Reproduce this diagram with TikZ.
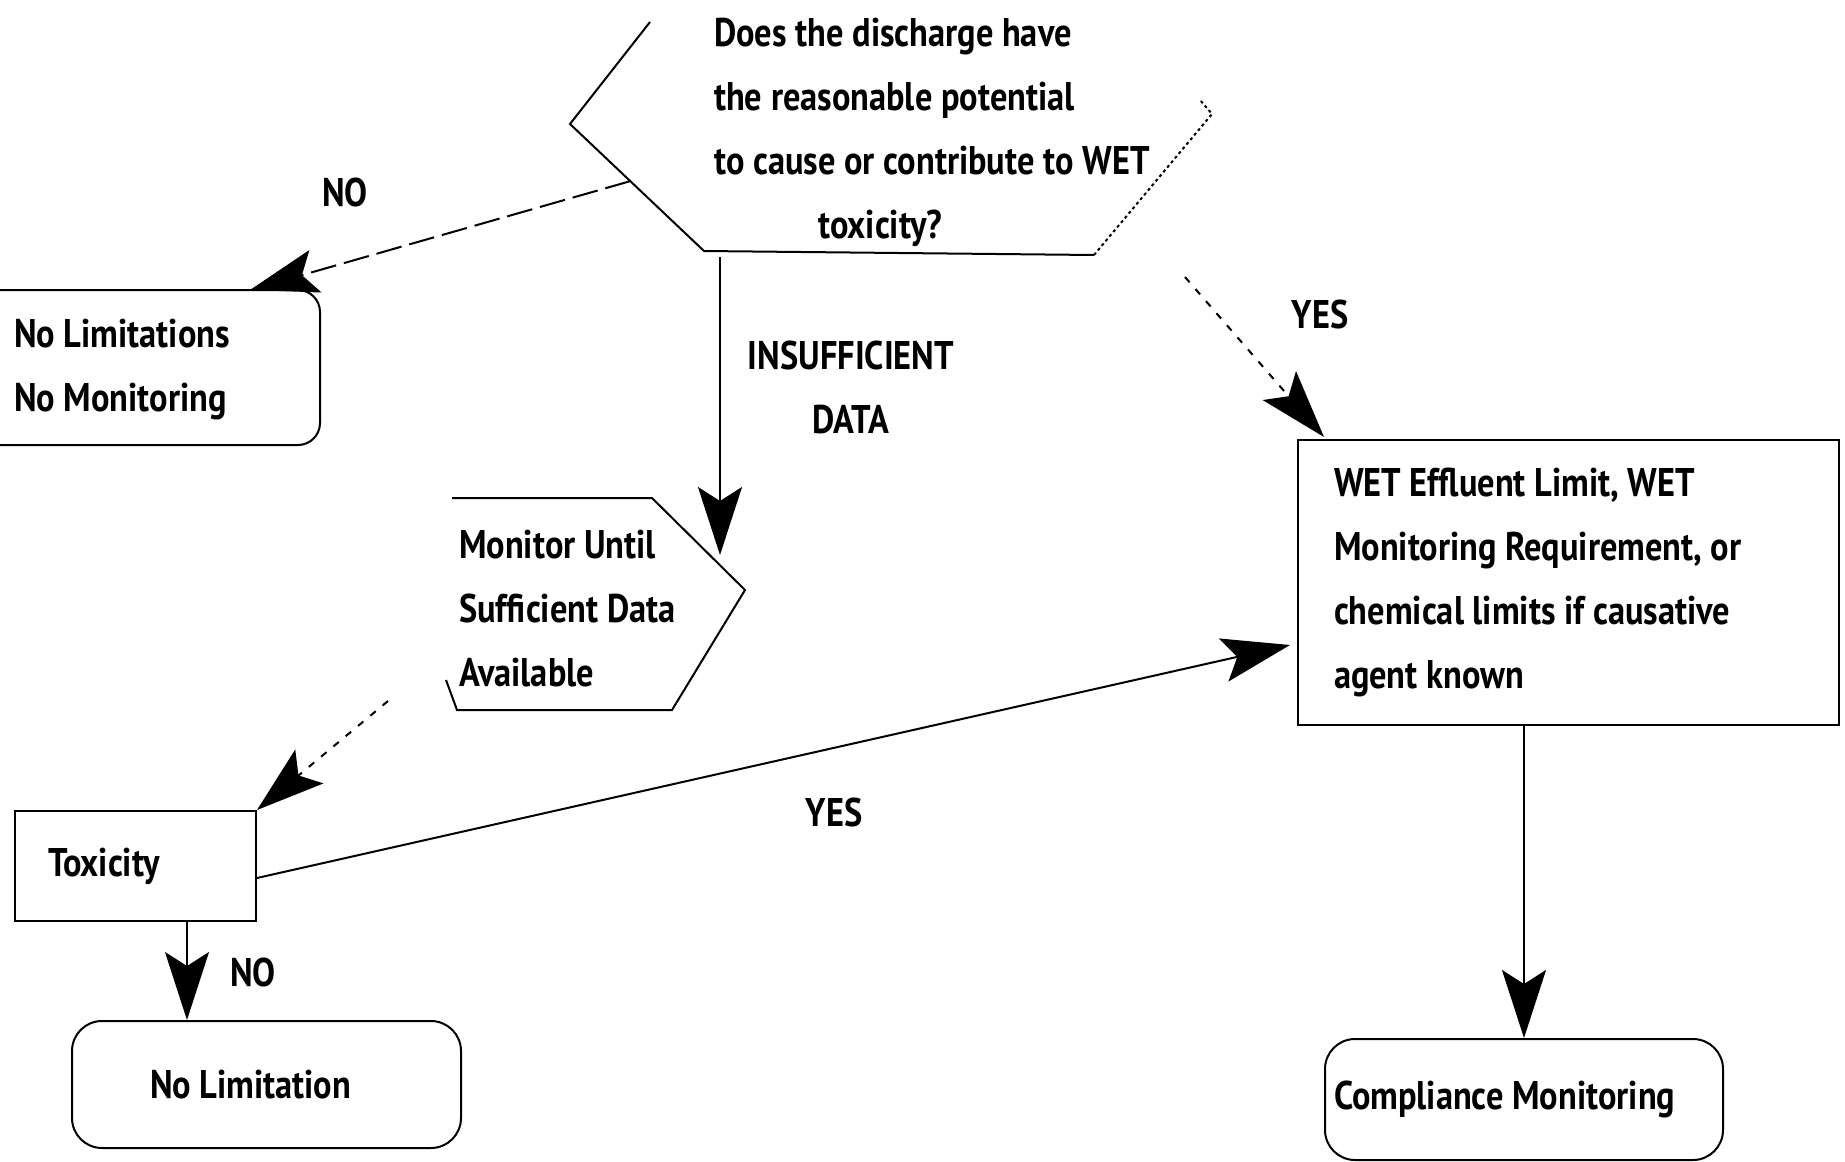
\documentclass[tikz,border=0pt]{standalone}
\usepackage{fontspec}
\setmainfont{PT Sans}[FakeStretch=0.86]
\usetikzlibrary{arrows.meta,calc}
\begin{document}
\begin{tikzpicture}[x=1pt,y=-1pt,
  every node/.style={font=\bfseries\fontsize{40}{64}\selectfont, inner sep=0pt},
  ln/.style={line width=2pt},
  arr/.style={line width=2pt, -{Stealth[length=68pt,width=44pt,inset=14pt]}},
  faint/.style={dash pattern=on 7pt off 9pt},
  box/.style={draw, line width=2pt, align=flush left, anchor=north west},
]
\useasboundingbox (0,0) rectangle (1845,1162);

% decision shape
\coordinate (dL) at (570,124);
\coordinate (dTL) at (650,22);
\coordinate (dBL) at (704,251);
\coordinate (dBR) at (1094,255);
\coordinate (dR) at (1212,114);
\coordinate (dTR) at (1200,100);
\draw[ln] (dTL) -- (dL) -- (dBL) -- (dBR);
\draw[ln, dashed] (dBR) -- (dR) -- (dTR);
\node[anchor=west, align=left] (dec) at (714,132)
  {Does the discharge have\\the reasonable potential\\to cause or contribute to WET\\\hspace*{104pt}toxicity?};

% no limitations / no monitoring
\draw[ln, rounded corners=22pt] (-10,290) -- (320,290) -- (320,445) -- (-10,445);
\node[anchor=west, align=left] (nolim) at (14,370) {No Limitations\\No Monitoring};

% monitor until
\coordinate (mTL) at (452,498);
\coordinate (mTR) at (652,498);
\coordinate (mR) at (745,590);
\coordinate (mBR) at (672,710);
\coordinate (mBL) at (457,710);
\coordinate (mLs) at (446,680);
\draw[ln] (mTL) -- (mTR) -- (mR) -- (mBR) -- (mBL) -- (mLs);
\node[anchor=west, align=left] (mon) at (459,609) {Monitor Until\\Sufficient Data\\Available};

% boxes
\node[box, minimum width=541pt, minimum height=285pt, inner xsep=36pt, text width=469pt] (wet) at (1297,439)
  {WET Effluent Limit, WET\\Monitoring Requirement, or\\chemical limits if causative\\agent known};
\node[box, rounded corners=30pt, minimum width=398pt, minimum height=121pt, inner xsep=9pt, text width=380pt] (comp) at (1324,1038)
  {Compliance Monitoring};
\node[box, minimum width=241pt, minimum height=110pt, inner xsep=33pt, text width=175pt] (tox) at (14,810) {Toxicity};
\node[box, rounded corners=30pt, minimum width=389pt, minimum height=127pt, inner xsep=78pt, text width=233pt] (nl) at (71,1020) {No Limitation};

% connectors
\coordinate (dIns) at (720,257);
\coordinate (mIn) at (720,555);
\draw[arr] (dIns) -- (mIn);
\coordinate (dNo) at ($(dL)!0.45!(dBL)$);
\coordinate (nlIn) at (250,290);
\draw[arr, dash pattern=on 26pt off 8pt] (dNo) -- (nlIn);
\coordinate (yS) at (1185,277);
\coordinate (wIn) at (1324,437);
\draw[arr, faint] (yS) -- (wIn);
\draw[arr] (comp.north |- wet.south) -- (comp.north);
\coordinate (mOut) at (388,701);
\draw[arr, faint] (mOut) -- (tox.north east);
\coordinate (tOut) at ([yshift=-12pt]tox.east);
\coordinate (wIn2) at (1290,645);
\draw[arr] (tOut) -- (wIn2);
\coordinate (nlTop) at (187,1020);
\draw[arr] (nlTop |- tox.south) -- (nlTop);

% labels
\node (no1) at (345,192) {NO};
\node[align=center] (insuf) at (851,387) {INSUFFICIENT\\DATA};
\node (yes1) at (1320,314) {YES};
\node (yes2) at (834,812) {YES};
\node (no2) at (253,972) {NO};
\end{tikzpicture}
\end{document}
